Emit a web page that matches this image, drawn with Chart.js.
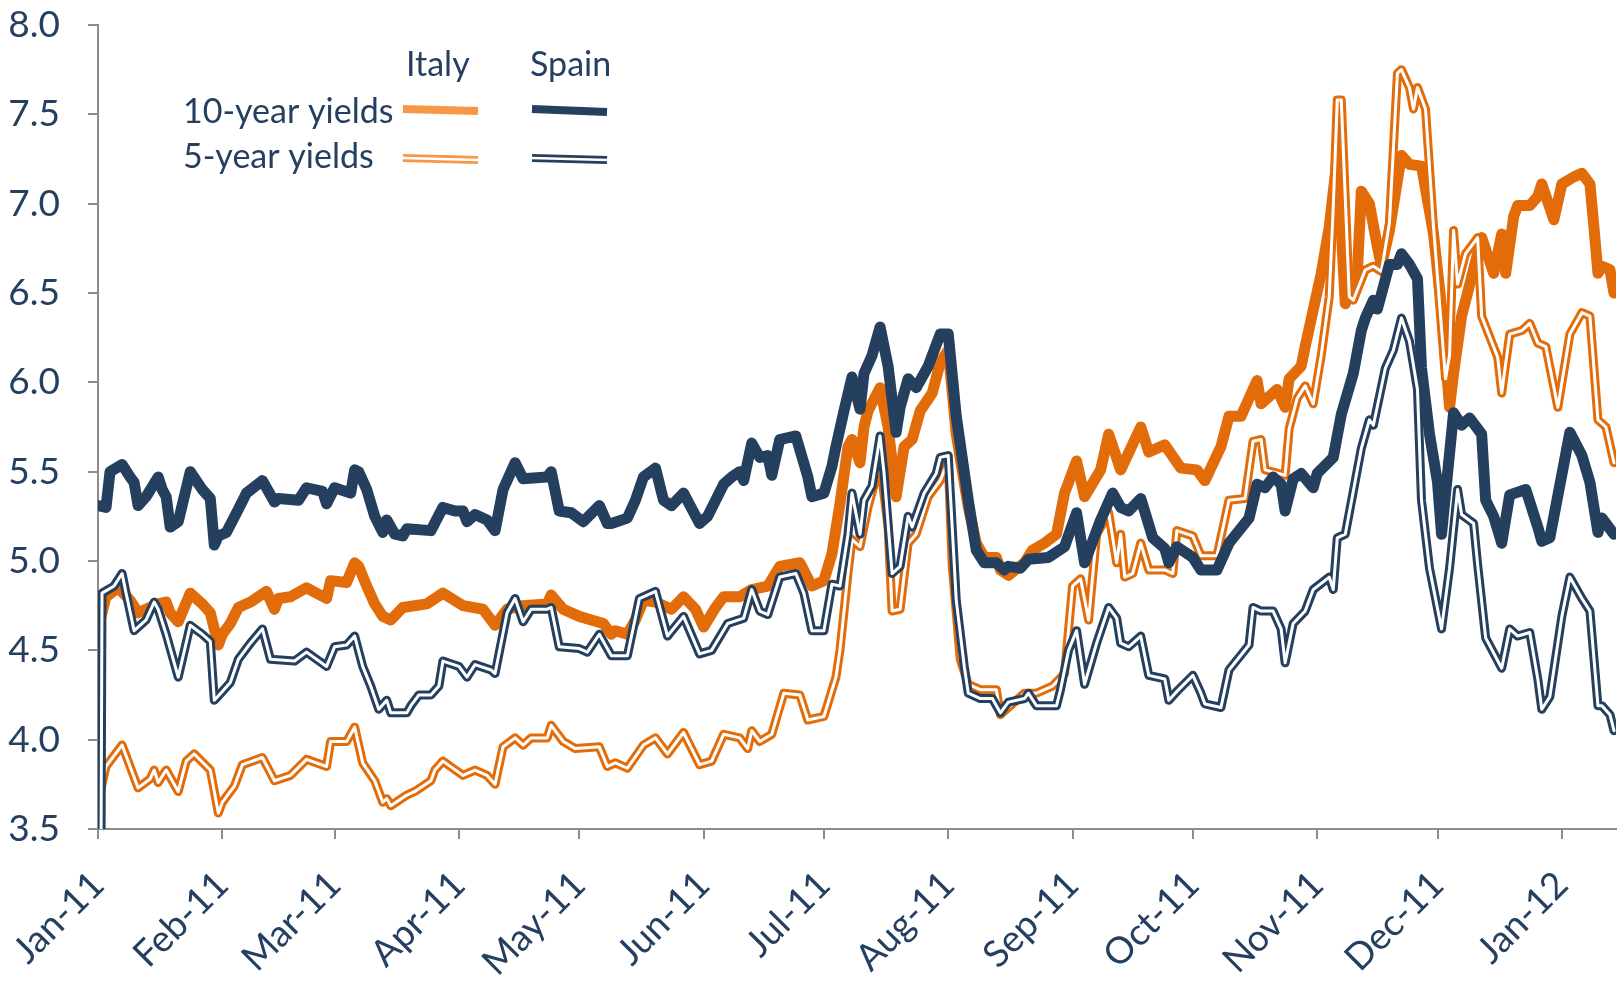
<!DOCTYPE html>
<html>
<head>
<meta charset="utf-8">
<script src="https://cdn.jsdelivr.net/npm/chart.js@4.4.1/dist/chart.umd.min.js"></script>
<style>
html,body{margin:0;padding:0;background:#ffffff;}
#wrap{width:1619px;height:984px;position:relative;}
</style>
</head>
<body>
<div id="wrap"><canvas id="c" width="1619" height="984" style="width:1619px;height:984px"></canvas></div>
<script>
// ---- axis ticks (days counted from 1 Jan 2011) ----
const monthTickDays = [0,31,59,90,120,151,181,212,243,273,304,334,365];
const monthLabels = ['Jan-11','Feb-11','Mar-11','Apr-11','May-11','Jun-11','Jul-11','Aug-11','Sep-11','Oct-11','Nov-11','Dec-11','Jan-12'];
const yTickValues = [3.5,4.0,4.5,5.0,5.5,6.0,6.5,7.0,7.5,8.0];

// ---- Spain 10-year ----
const spain10Days = [0,2,3,6,8,9,10,12,15,16,17,18,20,23,26,28,29,30,32,35,37,41,44,45,50,52,56,57,59,63,64,65,67,69,71,72,74,76,77,83,86,89,91,92,94,97,99,101,104,106,112,113,115,118,121,125,127,128,132,134,136,139,141,143,146,150,152,156,158,160,161,163,165,167,168,170,174,177,178,181,183,184,186,188,190,191,193,195,197,199,200,202,204,207,210,212,214,217,219,221,224,226,227,230,232,237,241,244,246,250,253,255,257,260,263,266,267,269,273,275,279,282,287,289,291,293,295,296,298,300,303,304,308,310,313,315,316,318,319,322,324,325,327,329,330,332,334,335,338,340,342,345,346,348,350,352,356,359,360,362,367,370,372,374,375,377,378];
const spain10 = [5.31,5.30,5.50,5.54,5.47,5.44,5.31,5.36,5.47,5.40,5.36,5.19,5.22,5.50,5.40,5.35,5.09,5.14,5.16,5.29,5.38,5.45,5.33,5.35,5.34,5.41,5.39,5.32,5.41,5.38,5.51,5.50,5.40,5.25,5.16,5.23,5.15,5.14,5.18,5.17,5.30,5.28,5.28,5.22,5.26,5.23,5.17,5.40,5.55,5.46,5.47,5.50,5.28,5.27,5.22,5.31,5.21,5.21,5.24,5.34,5.47,5.52,5.34,5.31,5.38,5.21,5.25,5.43,5.47,5.50,5.45,5.66,5.58,5.59,5.48,5.68,5.70,5.47,5.36,5.38,5.53,5.64,5.84,6.03,5.85,6.05,6.15,6.31,6.09,5.72,5.86,6.02,5.97,6.09,6.27,6.27,5.81,5.34,5.06,4.99,4.99,4.95,4.97,4.96,5.01,5.02,5.08,5.27,4.99,5.23,5.38,5.30,5.28,5.35,5.13,5.07,4.99,5.08,5.02,4.95,4.95,5.10,5.24,5.43,5.41,5.47,5.43,5.28,5.46,5.49,5.41,5.49,5.58,5.82,6.05,6.29,6.36,6.46,6.41,6.66,6.66,6.72,6.66,6.58,6.08,5.71,5.44,5.15,5.83,5.76,5.80,5.71,5.34,5.25,5.10,5.37,5.40,5.19,5.11,5.13,5.72,5.59,5.44,5.16,5.24,5.18,5.15];

// ---- Italy 10-year ----
const italy10Days = [0,2,5,8,10,15,17,18,20,23,26,28,30,31,33,35,38,42,44,45,48,52,57,58,62,64,65,67,69,71,73,76,82,86,91,96,99,102,106,112,113,116,120,123,126,128,129,132,134,136,139,143,146,149,151,154,156,160,163,167,170,175,178,181,183,185,187,188,190,191,192,195,197,199,201,203,205,208,210,212,214,217,219,221,224,225,227,231,233,236,239,241,244,246,250,252,255,260,262,266,270,274,276,280,282,285,289,290,294,296,297,300,301,305,307,309,311,314,315,317,319,320,322,325,327,330,333,335,337,338,340,344,345,348,350,351,353,354,357,359,360,363,365,368,370,372,373,374,375,377,378];
const italy10 = [4.62,4.80,4.85,4.78,4.71,4.76,4.77,4.71,4.66,4.82,4.76,4.71,4.53,4.59,4.65,4.74,4.77,4.83,4.73,4.79,4.80,4.85,4.79,4.89,4.88,4.99,4.97,4.86,4.76,4.69,4.67,4.74,4.76,4.82,4.75,4.73,4.64,4.73,4.75,4.76,4.81,4.73,4.69,4.67,4.65,4.59,4.61,4.59,4.67,4.78,4.77,4.73,4.80,4.73,4.63,4.74,4.80,4.80,4.84,4.86,4.97,4.99,4.86,4.89,5.04,5.32,5.64,5.68,5.55,5.75,5.84,5.97,5.75,5.36,5.64,5.68,5.84,5.94,6.11,6.18,5.71,5.30,5.10,5.02,5.02,4.95,4.92,4.99,5.06,5.10,5.15,5.38,5.56,5.36,5.51,5.71,5.51,5.75,5.61,5.65,5.52,5.51,5.45,5.64,5.81,5.81,6.01,5.88,5.96,5.86,6.02,6.09,6.20,6.61,6.87,7.26,6.44,6.61,7.07,7.00,6.76,6.65,6.85,7.27,7.22,7.21,6.83,6.42,5.86,6.05,6.37,6.72,6.81,6.61,6.83,6.61,6.93,6.99,6.99,7.04,7.11,6.91,7.11,7.15,7.17,7.11,6.87,6.61,6.65,6.63,6.50];

// ---- Italy 5-year ----
const italy5Days = [0,2,6,10,13,14,15,17,20,22,24,28,30,31,34,36,41,44,48,52,57,58,62,64,66,69,71,72,73,77,79,83,84,86,91,94,97,99,101,104,106,108,112,113,116,119,125,127,129,132,136,139,142,146,150,153,156,160,162,163,165,168,171,175,177,181,184,185,187,188,190,192,195,197,198,200,202,204,207,210,212,213,215,217,220,224,225,227,231,234,238,241,243,245,247,249,252,254,255,256,258,260,262,266,268,269,273,275,279,282,286,288,290,291,296,297,299,301,303,305,307,308,309,310,312,313,316,318,320,322,324,325,327,328,329,331,333,335,336,337,338,339,341,344,345,349,350,352,355,357,359,361,364,367,370,372,374,376,378];
const italy5 = [3.65,3.85,3.97,3.73,3.78,3.83,3.76,3.83,3.71,3.88,3.92,3.83,3.59,3.65,3.74,3.86,3.90,3.77,3.80,3.89,3.85,3.99,3.99,4.07,3.87,3.77,3.65,3.67,3.63,3.69,3.71,3.77,3.83,3.88,3.80,3.83,3.80,3.75,3.96,4.01,3.97,4.01,4.01,4.08,3.99,3.95,3.96,3.85,3.87,3.84,3.97,4.01,3.92,4.04,3.86,3.88,4.03,4.01,3.95,4.05,3.99,4.03,4.26,4.25,4.11,4.13,4.35,4.50,4.93,5.12,5.08,5.30,5.55,5.19,4.72,4.73,5.10,5.15,5.36,5.45,5.56,4.97,4.45,4.31,4.28,4.28,4.14,4.18,4.26,4.26,4.30,4.37,4.86,4.90,4.67,5.15,5.27,4.99,5.15,4.91,4.93,5.10,4.95,4.95,4.93,5.17,5.14,5.03,5.03,5.34,5.35,5.67,5.68,5.51,5.48,5.74,5.91,5.98,5.88,6.15,6.48,6.98,7.58,7.58,6.48,6.46,6.63,6.65,6.62,6.89,7.73,7.75,7.65,7.53,7.65,7.53,6.87,6.30,6.02,6.15,6.85,6.55,6.72,6.81,6.37,6.14,5.94,6.27,6.29,6.33,6.22,6.20,5.86,6.27,6.39,6.37,5.79,5.75,5.55];

// ---- Spain 5-year ----
const spain5Days = [0,1,4,6,7,9,10,12,14,15,17,20,23,26,28,29,31,33,35,38,41,43,49,52,57,59,62,64,66,68,70,72,73,77,78,79,80,83,85,86,90,92,94,98,99,102,104,106,108,112,113,115,120,122,125,128,132,135,139,142,146,150,153,157,161,163,165,167,170,174,176,178,181,183,185,187,188,190,191,193,195,196,198,200,202,203,206,209,210,212,214,216,217,220,223,225,227,231,232,234,239,240,242,244,246,249,252,254,255,257,260,262,266,267,269,273,275,276,280,282,287,288,290,293,295,296,298,301,303,307,308,309,311,313,315,317,318,321,323,325,327,329,330,332,335,337,339,340,343,344,346,350,352,354,357,359,360,362,365,367,370,372,374,375,377,378];
const spain5 = [-1.0,4.82,4.86,4.93,4.82,4.61,4.63,4.67,4.77,4.73,4.59,4.35,4.64,4.59,4.55,4.22,4.27,4.32,4.45,4.54,4.62,4.45,4.44,4.49,4.41,4.52,4.53,4.58,4.41,4.30,4.17,4.22,4.15,4.15,4.19,4.22,4.25,4.25,4.30,4.44,4.41,4.35,4.42,4.39,4.37,4.71,4.79,4.66,4.73,4.73,4.74,4.52,4.51,4.49,4.59,4.47,4.47,4.79,4.83,4.58,4.69,4.48,4.50,4.65,4.68,4.84,4.72,4.70,4.91,4.93,4.82,4.61,4.61,4.87,4.86,5.15,5.38,5.15,5.34,5.42,5.70,5.49,4.93,4.97,5.25,5.19,5.38,5.49,5.58,5.59,4.78,4.41,4.26,4.23,4.23,4.15,4.21,4.23,4.26,4.19,4.19,4.28,4.50,4.61,4.31,4.54,4.74,4.68,4.54,4.52,4.58,4.36,4.34,4.22,4.27,4.36,4.26,4.20,4.18,4.39,4.53,4.74,4.72,4.72,4.62,4.43,4.65,4.72,4.84,4.91,4.84,5.13,5.15,5.39,5.63,5.79,5.76,6.08,6.18,6.36,6.23,5.96,5.34,4.96,4.62,4.96,5.40,5.26,5.21,4.98,4.57,4.40,4.62,4.58,4.60,4.34,4.17,4.24,4.69,4.91,4.79,4.72,4.19,4.19,4.14,4.05];

// ---- styling ----
const ORANGE = '#E36C0A';
const NAVY = '#253F5F';
const TEXT = '#243F60';
const AXIS = '#8C8C8C';
const FONT = 'Lato';

function pts(days, vals){ return days.map((d,i)=>({x:d, y:vals[i]})); }

function lineDs(label, days, vals, color, width, order){
  return {
    label, data: pts(days, vals), borderColor: color, backgroundColor: color,
    borderWidth: width, pointRadius: 0, tension: 0, fill: false,
    borderJoinStyle: 'round', borderCapStyle: 'round', order
  };
}

const datasets = [
  lineDs('Spain 5y inner', spain5Days, spain5, '#ffffff', 3, 0),
  lineDs('Spain 5y', spain5Days, spain5, NAVY, 9, 1),
  lineDs('Spain 10y', spain10Days, spain10, NAVY, 11, 2),
  lineDs('Italy 5y inner', italy5Days, italy5, '#ffffff', 3, 3),
  lineDs('Italy 5y', italy5Days, italy5, ORANGE, 9, 4),
  lineDs('Italy 10y', italy10Days, italy10, ORANGE, 11, 5)
];

const legendPlugin = {
  id: 'customLegend',
  afterDraw(chart){
    const ctx = chart.ctx;
    ctx.save();
    ctx.fillStyle = TEXT;
    ctx.font = '34px ' + FONT;
    ctx.textBaseline = 'middle';
    ctx.textAlign = 'left';
    ctx.fillText('Italy', 406, 65);
    ctx.fillText('Spain', 530, 65);
    ctx.fillText('10-year yields', 183, 112);
    ctx.fillText('5-year yields', 183, 157);
    ctx.lineCap = 'butt';
    function seg(x1,y1,x2,y2,c,w){ ctx.strokeStyle=c; ctx.lineWidth=w; ctx.beginPath(); ctx.moveTo(x1,y1); ctx.lineTo(x2,y2); ctx.stroke(); }
    seg(403,109,478,111,'#F79646',8);
    seg(532,109,607,112,NAVY,8);
    seg(403,158,478,160,'#F79646',8);
    seg(403,158,478,160,'#ffffff',2.6);
    seg(532,158,607,160,NAVY,8);
    seg(532,158,607,160,'#ffffff',2.6);
    ctx.restore();
  }
};

new Chart(document.getElementById('c'), {
  type: 'line',
  data: { datasets },
  plugins: [legendPlugin],
  options: {
    responsive: false,
    devicePixelRatio: 1,
    animation: false,
    layout: { padding: { top: 25, right: 3, left: 0, bottom: 0 } },
    plugins: { legend: { display: false }, tooltip: { enabled: false } },
    scales: {
      x: {
        type: 'linear', min: 0, max: 378.5,
        afterBuildTicks: (s) => { s.ticks = monthTickDays.map(v => ({ value: v })); },
        afterFit: (s) => { s.height = 155; s.paddingLeft = 0; s.paddingRight = 0; },
        ticks: {
          autoSkip: false, maxRotation: 45, minRotation: 45, padding: 24,
          color: TEXT, font: { family: FONT, size: 37 },
          callback: (v) => { const i = monthTickDays.indexOf(v); return i >= 0 ? monthLabels[i] : ''; }
        },
        grid: { display: true, drawOnChartArea: false, drawTicks: true, tickLength: 10, color: AXIS, lineWidth: 2 },
        border: { display: true, color: AXIS, width: 2 }
      },
      y: {
        min: 3.5, max: 8.0,
        afterBuildTicks: (s) => { s.ticks = yTickValues.map(v => ({ value: v })); },
        afterFit: (s) => { s.width = 98; s.paddingTop = 0; s.paddingBottom = 0; },
        ticks: {
          padding: 28, color: TEXT, font: { family: FONT, size: 37 },
          callback: (v) => Number(v).toFixed(1)
        },
        grid: { display: true, drawOnChartArea: false, drawTicks: true, tickLength: 10, color: AXIS, lineWidth: 2 },
        border: { display: true, color: AXIS, width: 2 }
      }
    }
  }
});
</script>
</body>
</html>
